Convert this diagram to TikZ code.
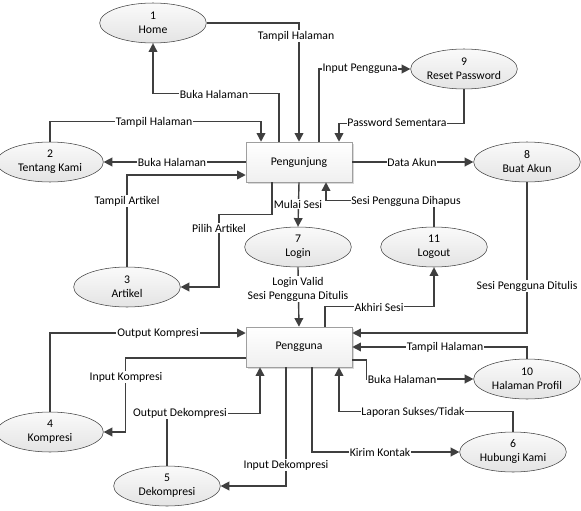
\documentclass[tikz,border=0pt]{standalone}
\usepackage{fontspec}
\setmainfont{Carlito}
\usetikzlibrary{arrows.meta, calc, shadows, shapes.geometric}
\definecolor{dfdLine}{HTML}{3F3F3F}
\definecolor{dfdFill}{HTML}{E4E4E4}

\begin{document}
\begin{tikzpicture}[x=0.75pt, y=-0.75pt,
      proc/.style={ellipse, draw=dfdLine, top color=gray!4, bottom color=dfdFill,
                   minimum width=80pt, minimum height=30pt, inner sep=0pt,
                   align=center, font=\fontsize{8.8}{10.5}\selectfont},
      ent/.style={rectangle, draw=gray!75, top color=white, bottom color=gray!12,
                  minimum width=79.5pt, minimum height=30pt,
                  drop shadow={opacity=0.3, shadow xshift=1.5pt, shadow yshift=-1.5pt},
                  font=\fontsize{8.8}{10.5}\selectfont},
      flow/.style={-{Triangle[length=6.5pt, width=6.5pt]}, line width=1.05pt, dfdLine},
      lbl/.style={fill=white, inner sep=0.6pt, align=center,
                  font=\fontsize{8.8}{10.5}\selectfont}
    ]
    \useasboundingbox (0,0) rectangle (581,510);

    % entitas
    \node[ent] (pgj) at (299,162) {Pengunjung};
    \node[ent] (pgg) at (299,347) {Pengguna};

    % proses
    \node[proc] (home)    at (153,23)  {1\\Home};
    \node[proc] (tk)      at (50,162)  {2\\Tentang Kami};
    \node[proc] (art)     at (127,287) {3\\Artikel};
    \node[proc] (komp)    at (50,432)  {4\\Kompresi};
    \node[proc] (dekomp)  at (167,486) {5\\Dekompresi};
    \node[proc] (hubungi) at (513,452) {6\\Hubungi Kami};
    \node[proc] (login)   at (298,247) {7\\Login};
    \node[proc] (akun)    at (527,162) {8\\Buat Akun};
    \node[proc] (reset)   at (464,69)  {9\\Reset Password};
    \node[proc] (profil)  at (527,379) {10\\Halaman Profil};
    \node[proc] (logout)  at (434,247) {11\\Logout};

    % alur pengunjung
    \draw[flow] (home.east) -| (pgj.north);
    \draw[flow] ($(pgj.north)+(-20,0)$) -- ++(0,-48) -| (home.south);
    \draw[flow] (tk.north) -- ++(0,-20) -| ($(pgj.north)+(-38,0)$);
    \draw[flow] (pgj.west) -- (tk.east);
    \draw[flow] (art.north) |- ($(pgj.west)+(0,13)$);
    \draw[flow] ($(pgj.south)+(-27,0)$) -- ++(0,32) -- ++(-53,0) |- (art.east);
    \draw[flow] (pgj.south) -- (login.north);
    \draw[flow] (logout.north) -- ++(0,-26) -| ($(pgj.south)+(27,0)$);
    \draw[flow] ($(pgj.north)+(20,0)$) |- (reset.west);
    \draw[flow] (reset.south) -- ++(0,34) -| ($(pgj.north)+(40,0)$);
    \draw[flow] (pgj.east) -- (akun.west);

    % alur pengguna
    \draw[flow] (akun.south) |- ($(pgg.east)+(0,-14)$);
    \draw[flow] (login.south) -- (pgg.north);
    \draw[flow] ($(pgg.north)+(26,0)$) -- ++(0,-20) -| (logout.south);
    \draw[flow] (profil.north) |- (pgg.east);
    \draw[flow] ($(pgg.east)+(0,13)$) -- ++(14,0) |- (profil.west);
    \draw[flow] (hubungi.north) -- ++(0,-20) -| ($(pgg.south)+(40,0)$);
    \draw[flow] ($(pgg.south)+(13,0)$) |- (hubungi.west);
    \draw[flow] ($(pgg.south)+(-13,0)$) |- (dekomp.east);
    \draw[flow] (dekomp.north) -- ++(0,-52) -| ($(pgg.south)+(-39,0)$);
    \draw[flow] (komp.north) |- ($(pgg.west)+(0,-14)$);
    \draw[flow] ($(pgg.west)+(0,11)$) -- ++(-120,0) |- (komp.east);

    % label alur
    \node[lbl] (l1)  at (296,36)  {Tampil Halaman};
    \node[lbl] (l2)  at (214,94)  {Buka Halaman};
    \node[lbl] (l3)  at (154,122) {Tampil Halaman};
    \node[lbl] (l4)  at (172,162) {Buka Halaman};
    \node[lbl] (l5)  at (127,201) {Tampil Artikel};
    \node[lbl] (l6)  at (219,228) {Pilih Artikel};
    \node[lbl] (l7)  at (298,204) {Mulai Sesi};
    \node[lbl] (l8)  at (406,201) {Sesi Pengguna Dihapus};
    \node[lbl] (l9)  at (360,69)  {Input Pengguna};
    \node[lbl] (l10) at (397,122) {Password Sementara};
    \node[lbl] (l11) at (412,162) {Data Akun};
    \node[lbl] (l12) at (527,286) {Sesi Pengguna Ditulis};
    \node[lbl] (l13) at (298,289) {Login Valid\\Sesi Pengguna Ditulis};
    \node[lbl] (l14) at (379,307) {Akhiri Sesi};
    \node[lbl] (l15) at (445,347) {Tampil Halaman};
    \node[lbl] (l16) at (402,379) {Buka Halaman};
    \node[lbl] (l17) at (413,412) {Laporan Sukses/Tidak};
    \node[lbl] (l18) at (380,452) {Kirim Kontak};
    \node[lbl] (l19) at (286,465) {Input Dekompresi};
    \node[lbl] (l20) at (180,413) {Output Dekompresi};
    \node[lbl] (l21) at (158,333) {Output Kompresi};
    \node[lbl] (l22) at (126,377) {Input Kompresi};
\end{tikzpicture}
\end{document}
